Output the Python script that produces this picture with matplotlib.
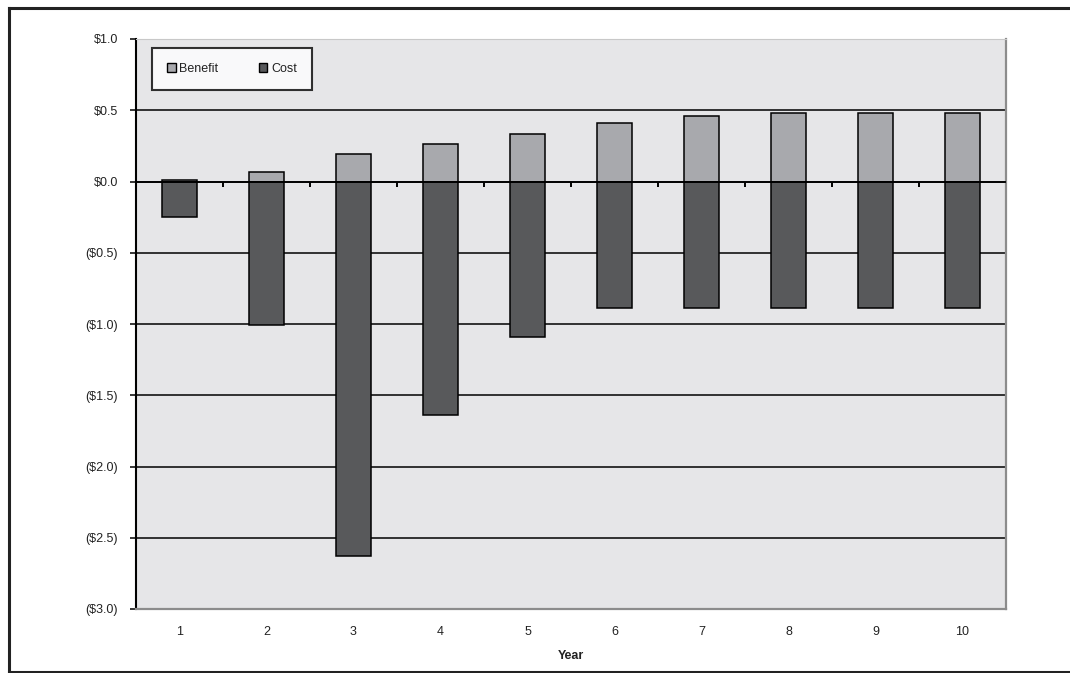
import matplotlib
matplotlib.use("Agg")
import matplotlib.pyplot as plt
import numpy as np
from matplotlib.lines import Line2D
from matplotlib.patches import Patch

years = [1, 2, 3, 4, 5, 6, 7, 8, 9, 10]
benefit = [0.01, 0.07, 0.19, 0.26, 0.33, 0.41, 0.46, 0.48, 0.48, 0.48]
cost = [-0.25, -1.01, -2.63, -1.64, -1.09, -0.89, -0.89, -0.89, -0.89, -0.89]
ytick_vals = [1.0, 0.5, 0.0, -0.5, -1.0, -1.5, -2.0, -2.5, -3.0]

def fmt(v):
    if v < 0:
        return "(${:.1f})".format(-v)
    return "${:.1f}".format(v)

plt.rcParams['font.family'] = ['Liberation Sans', 'DejaVu Sans']

W, H = 1070, 673
fig = plt.figure(figsize=(W / 100, H / 100), dpi=100)
ax = fig.add_axes([136 / W, 1 - 609 / H, (1006 - 136) / W, (609 - 39) / H])

bg = '#e6e6e8'
ben_col = '#a8a9ad'
cost_col = '#58595b'
ax.set_facecolor(bg)

x = np.arange(len(years))
ax.set_xlim(-0.5, len(years) - 0.5)
ax.set_ylim(-3.0, 1.0)

for v in ytick_vals:
    if -3.0 < v < 1.0:
        ax.axhline(v, color='black', lw=1.1, zorder=1)

bw = 0.41
ax.bar(x, benefit, width=bw, color=ben_col, edgecolor='black', linewidth=1.1, zorder=2)
ax.bar(x, cost, width=bw, color=cost_col, edgecolor='black', linewidth=1.1, zorder=2)

ax.axhline(0, color='black', lw=1.3, zorder=3)
# category separator ticks on zero line
for b in np.arange(0.5, len(years) - 0.5, 1.0):
    ax.plot([b, b], [0, -0.04], color='black', lw=1.4, zorder=3, solid_capstyle='butt')

ax.set_yticks(ytick_vals)
ax.set_yticklabels([fmt(v) for v in ytick_vals])
ax.set_xticks(x)
ax.set_xticklabels([str(y) for y in years])
ax.tick_params(axis='y', direction='out', length=4, width=1.1, color='black',
               labelsize=9, labelcolor='#222222', pad=9)
ax.tick_params(axis='x', length=0, labelsize=9, labelcolor='#222222', pad=12)
ax.set_xlabel('Year', fontsize=9, fontweight='bold', labelpad=9, color='#222222')

ax.spines['left'].set_color('black')
ax.spines['left'].set_linewidth(1.5)
for s in ['right', 'bottom']:
    ax.spines[s].set_color('#8c8c8c')
    ax.spines[s].set_linewidth(1.6)
ax.spines['top'].set_color('#c8c8c8')
ax.spines['top'].set_linewidth(0.8)

handles = [Patch(facecolor=ben_col, edgecolor='black', linewidth=1.0, label='Benefit'),
           Patch(facecolor=cost_col, edgecolor='black', linewidth=1.0, label='Cost')]
leg = ax.legend(handles=handles, loc='upper left', ncol=2,
                bbox_to_anchor=((152 - 136) / 870, 1 - (48 - 39) / 570),
                frameon=True, fancybox=False, fontsize=9,
                handlelength=0.7, handleheight=0.7, handletextpad=0.3,
                columnspacing=3.2, borderpad=1.2, borderaxespad=0)
leg.get_frame().set_edgecolor('black')
leg.get_frame().set_linewidth(1.5)
leg.get_frame().set_facecolor('white')
for t in leg.get_texts():
    t.set_color('#222222')

# outer frame
fig.add_artist(Line2D([9 / W, 9 / W], [1 - 8 / H, 1 - 672 / H], transform=fig.transFigure,
                      color='#222222', lw=2.2))
fig.add_artist(Line2D([9 / W, 1.0], [1 - 8 / H, 1 - 8 / H], transform=fig.transFigure,
                      color='#222222', lw=2.2))
fig.add_artist(Line2D([9 / W, 1.0], [1 - 672 / H, 1 - 672 / H], transform=fig.transFigure,
                      color='#222222', lw=2.2))

fig.savefig('out.png', dpi=100)
